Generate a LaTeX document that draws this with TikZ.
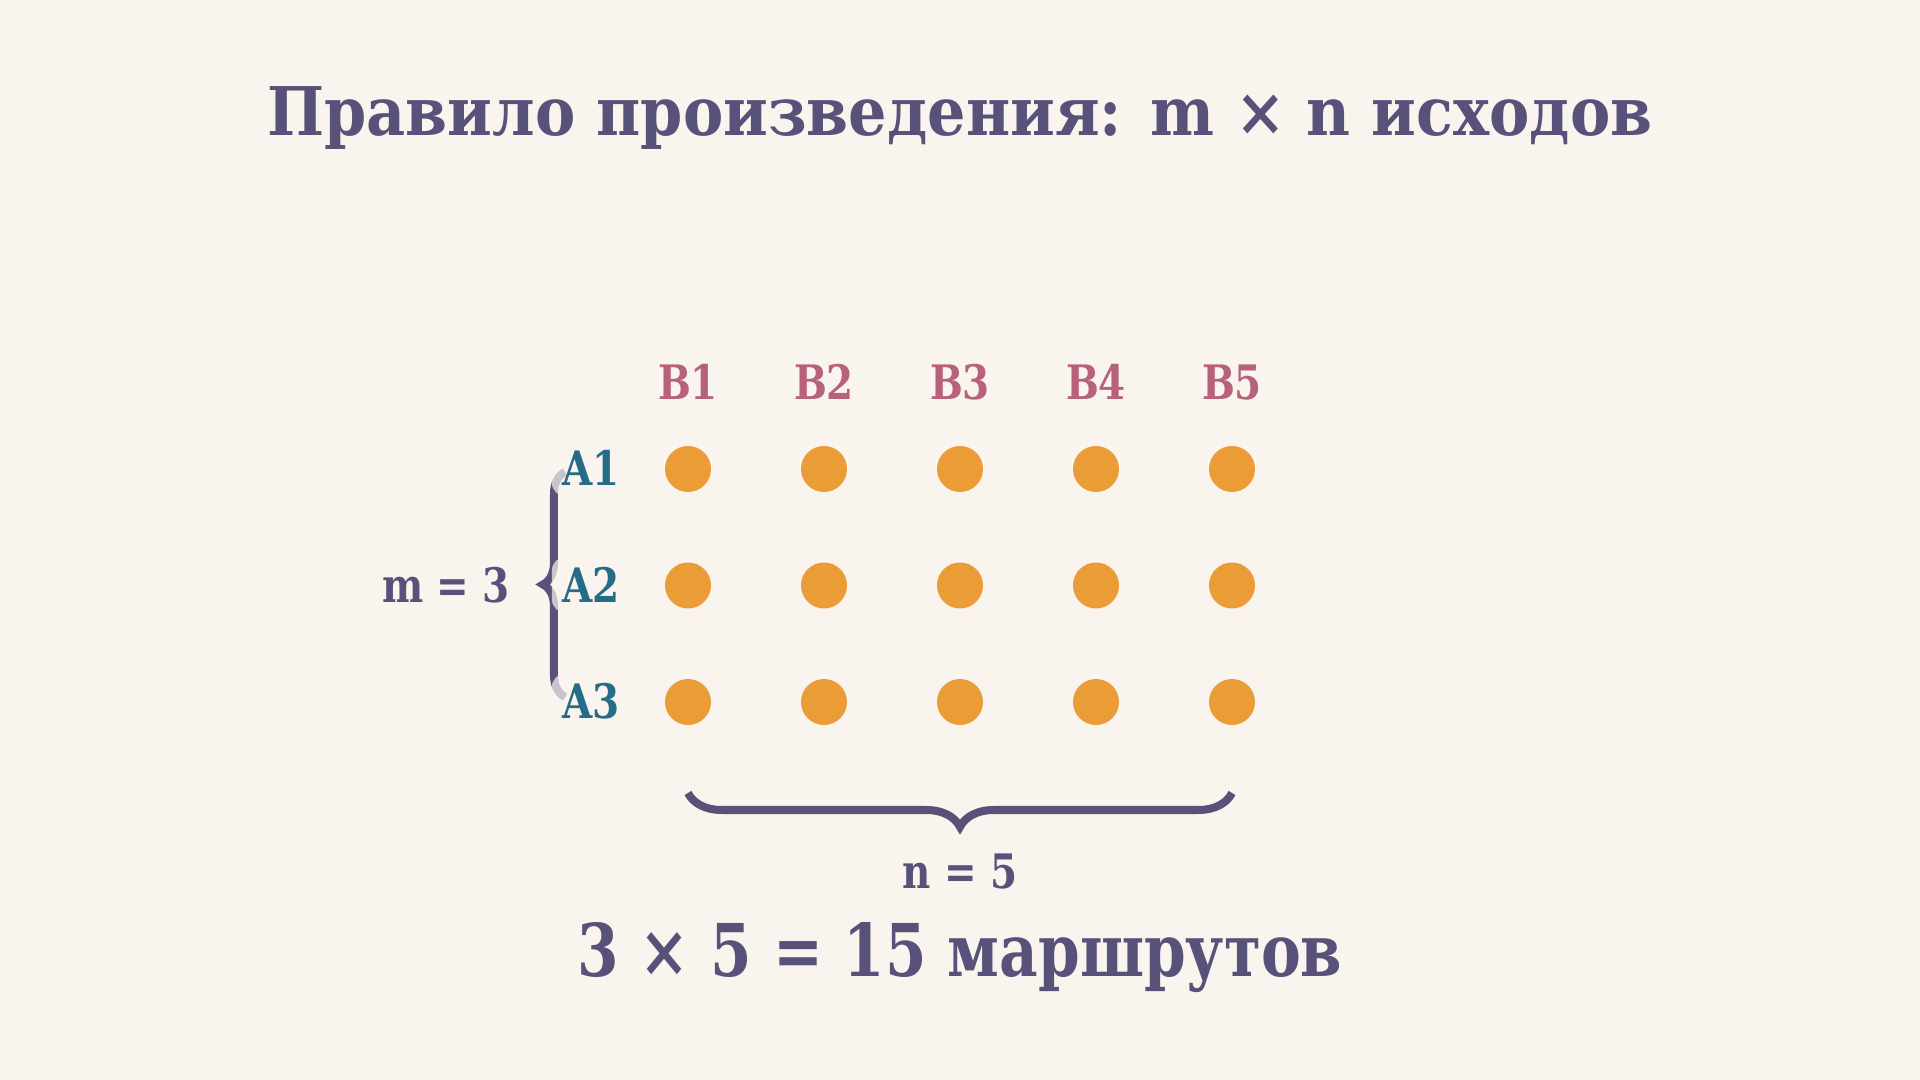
\documentclass[tikz,border=0pt]{standalone}
\usepackage{fontspec}
\setmainfont{DejaVu Serif}
\newfontfamily\headfont[FakeStretch=0.9]{DejaVu Serif}
\newfontfamily\narrowfont[FakeStretch=0.82]{DejaVu Serif}
\usetikzlibrary{decorations.pathreplacing}
\definecolor{bg}{HTML}{FAF4EE}
\definecolor{ink}{HTML}{58527A}
\definecolor{rowc}{HTML}{256C88}
\definecolor{colc}{HTML}{B5627A}
\definecolor{dotc}{HTML}{EA9D37}
\begin{document}
\begin{tikzpicture}[x=0.01cm,y=-0.01cm,
	lbl/.style={font=\narrowfont\bfseries\fontsize{13.5}{16}\selectfont,anchor=base,fill=bg,fill opacity=.7,text opacity=1,rounded corners=4pt,inner sep=3pt},
	dot/.style={circle,fill=dotc,minimum size=.46cm,inner sep=0pt},
	curly/.style={draw=ink,line width=.08cm,decorate,decoration={brace,amplitude=#1}}]
	\path[fill=bg] (0,0) rectangle (1920,1080);
	\node[anchor=base,text=ink,font=\headfont\bfseries\fontsize{19.1}{23}\selectfont] (title) at (960,136) {Правило произведения: m × n исходов};
	% dots and column labels
	\foreach \j in {1,...,5} {
		\node[lbl,text=colc] (b\j) at (552+136*\j,400) {B\j};
		\foreach \i in {1,2,3}
			\node[dot] (d\i\j) at (552+136*\j,352.5+116.5*\i) {};
	}
	% brackets
	\coordinate (lt) at (565,472);
	\coordinate (lb) at (565,697);
	\coordinate (bl) at (688,793);
	\coordinate (br) at (1232,793);
	\draw[curly=.22cm] (lb) -- (lt);
	\draw[curly=.34cm] (br) -- (bl);
	% row labels
	\foreach \i in {1,2,3}
		\node[lbl,text=rowc] (a\i) at (591,369.5+116.5*\i) {A\i};
	\node[lbl,text=ink] (m) at (446,603) {m = 3};
	\node[lbl,text=ink] (n) at (960,889) {n = 5};
	\node[anchor=base,text=ink,font=\narrowfont\bfseries\fontsize{20.7}{25}\selectfont] (total) at (960,977) {3 × 5 = 15 маршрутов};
\end{tikzpicture}
\end{document}
